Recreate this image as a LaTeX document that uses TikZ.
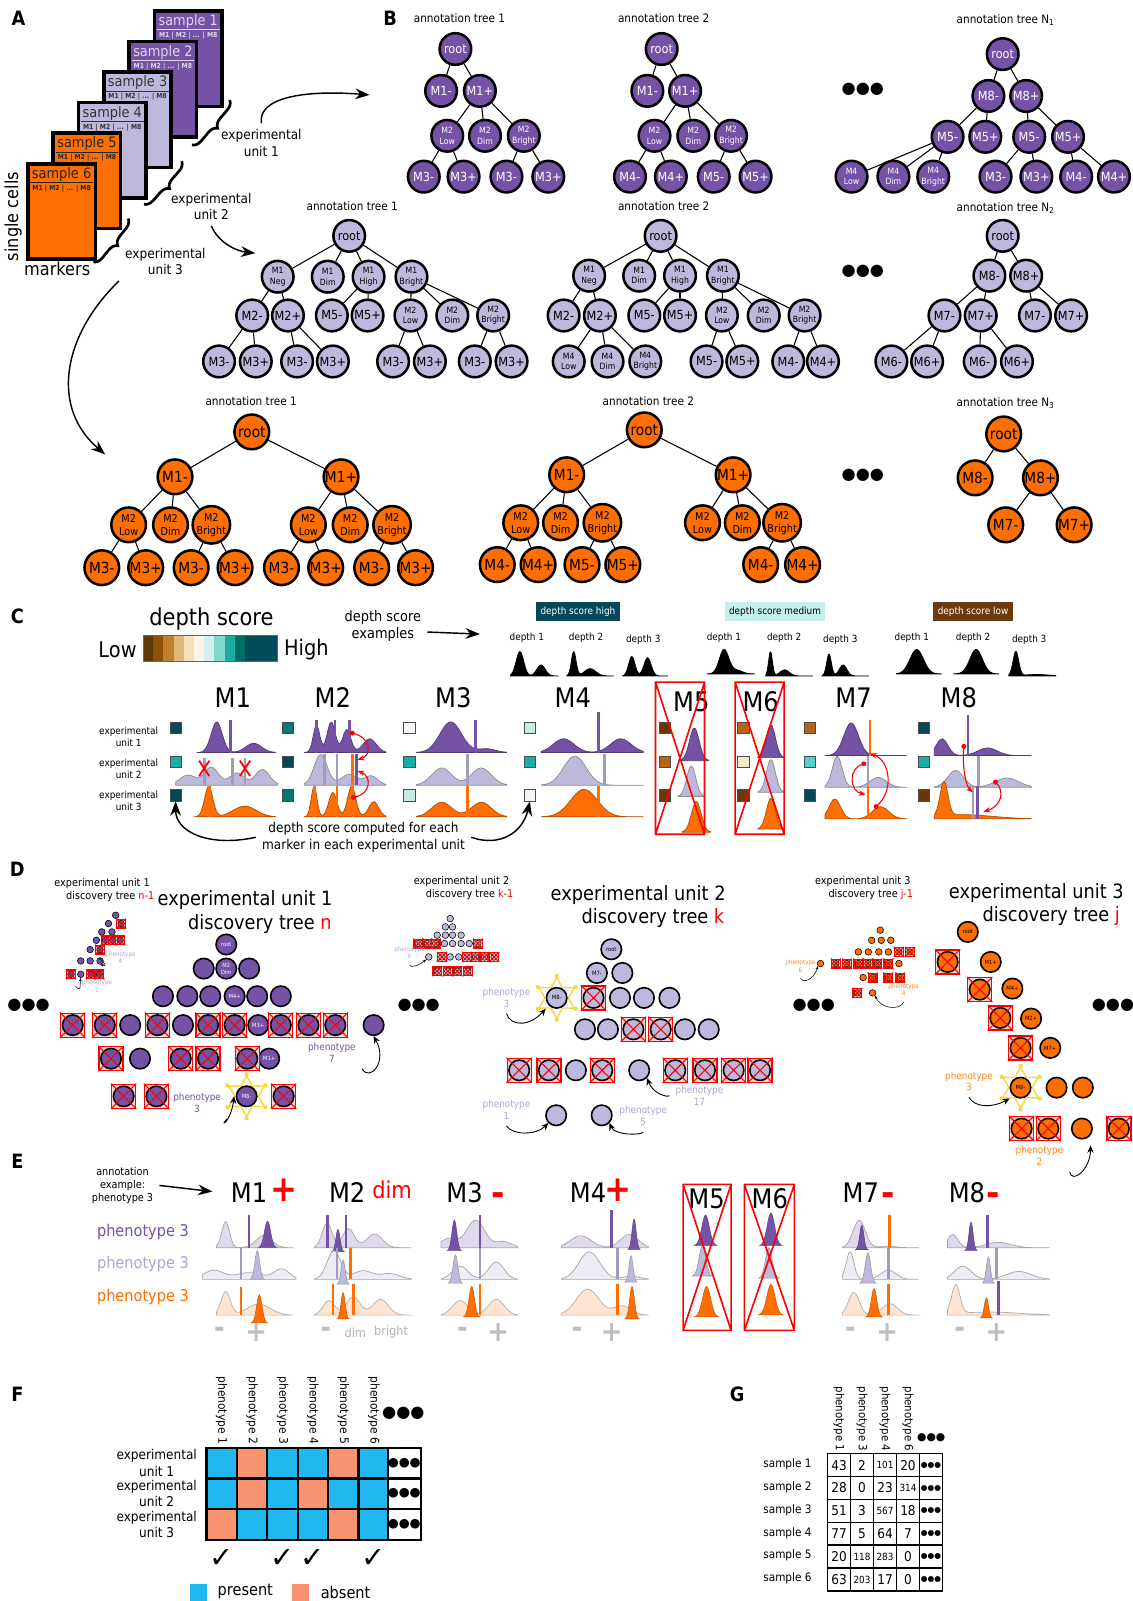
\documentclass[tikz,border=0pt]{standalone}
\usepackage{fontspec}
\setmainfont{DejaVu Sans}[FakeStretch=0.9]
\newfontfamily\symf{DejaVu Sans}
\usetikzlibrary{arrows.meta,calc,decorations.pathreplacing,shapes.geometric}
\pgfdeclarelayer{background}
\pgfsetlayers{background,main}

\definecolor{pdark}{RGB}{116,82,166}
\definecolor{plight}{RGB}{188,185,221}
\definecolor{orng}{RGB}{255,110,0}
\definecolor{plab}{RGB}{172,166,212}
\definecolor{pale}{RGB}{222,214,240}
\definecolor{olab}{RGB}{255,135,30}
\definecolor{present}{RGB}{33,184,240}
\definecolor{absent}{RGB}{250,148,112}
\definecolor{cb1}{RGB}{95,55,8}
\definecolor{cb2}{RGB}{140,81,10}
\definecolor{cb3}{RGB}{191,129,45}
\definecolor{cb4}{RGB}{223,183,120}
\definecolor{cb5}{RGB}{246,224,185}
\definecolor{cb6}{RGB}{250,245,235}
\definecolor{cb7}{RGB}{210,240,236}
\definecolor{cb8}{RGB}{128,215,205}
\definecolor{cb9}{RGB}{30,170,160}
\definecolor{cb10}{RGB}{1,110,100}
\definecolor{cb11}{RGB}{0,75,90}
\definecolor{dsLow}{RGB}{110,58,15}
\definecolor{dsMed}{RGB}{195,240,234}
\definecolor{sqW}{RGB}{245,245,245}
\definecolor{sqLT}{RGB}{199,234,229}
\definecolor{sqT}{RGB}{20,175,165}
\definecolor{sqMT}{RGB}{1,120,110}
\definecolor{sqDT}{RGB}{5,72,90}
\definecolor{sqAQ}{RGB}{80,210,200}
\definecolor{sqDB}{RGB}{107,55,10}
\definecolor{sqOB}{RGB}{185,100,20}
\definecolor{sqCR}{RGB}{248,232,200}
\definecolor{gold6}{RGB}{250,215,60}

\newcommand{\fsz}[1]{\fontsize{#1}{\dimexpr #1pt*12/10\relax}\selectfont}
% density curve: style, x0, baseline, width, height, shape in \x
\newcommand{\dens}[6]{\filldraw[#1] (#2,#3) -- plot[smooth, domain=0:1, samples=36] ({#2+#4*\x},{#3-#5*(#6)}) -- (#2+#4,#3) -- cycle;}
% narrow peak: style, centre, baseline, half width, height
\newcommand{\peak}[5]{\filldraw[#1] plot[smooth, domain=-1:1, samples=17] ({#2+#4*(\x)},{#3-#5*exp(-4.5*(\x)*(\x))}) -- cycle;}
% gate line: style, x, top, bottom
\newcommand{\gate}[4]{\draw[#1, line width=1.5pt] (#2,#3) -- (#2,#4);}
% crossed out node: name, position, style, square size
\newcommand{\xnode}[4]{\node[xsq, minimum size=#4] (#1-s) at (#2) {};
  \node[#3] (#1) at (#2) {};
  \draw[xline] (#1-s.north west) -- (#1-s.south east) (#1-s.north east) -- (#1-s.south west);}
% crossed out marker column
\newcommand{\xcol}[4]{\draw[red, line width=0.9pt] (#1,#2) rectangle (#3,#4) (#1,#2) -- (#3,#4) (#3,#2) -- (#1,#4);}

\begin{document}
\begin{tikzpicture}[x=0.02cm, y=-0.02cm,
  declare function={g(\t,\m,\w)=exp(-0.5*((\t-\m)/\w)*((\t-\m)/\w));},
  lbl/.style={font=\bfseries\fsz{11}},
  ttl/.style={font=\fsz{6.5}},
  tnode/.style={circle, draw=black, line width=1.4pt, inner sep=0pt, align=center},
  nA/.style={tnode, fill=pdark, text=white, minimum size=0.62cm, font=\fsz{7}},
  nAs/.style={nA, font=\fsz{4.8}},
  nB/.style={tnode, fill=plight, minimum size=0.62cm, font=\fsz{7}},
  nBs/.style={nB, font=\fsz{4.8}},
  nC/.style={tnode, fill=orng, minimum size=0.68cm, font=\fsz{8.5}},
  nCs/.style={nC, font=\fsz{6}},
  edge/.style={line width=0.6pt},
  thinedge/.style={line width=0.25pt},
  bigarrow/.style={line width=0.8pt, -{Stealth[length=8pt,width=6pt]}},
  smallarrow/.style={line width=0.5pt, -{Stealth[length=4pt,width=3.5pt]}},
  rarr/.style={red, line width=0.6pt, -{Stealth[length=4pt,width=3pt]}},
  sheet/.style={rectangle, draw=black, line width=2pt, minimum width=1.32cm, minimum height=1.87cm, anchor=north west, inner sep=0pt},
  brc/.style={decorate, decoration={brace, amplitude=5pt}, line width=1.5pt},
  dots/.style={font=\symf\fsz{9}},
  hdr/.style={font=\fsz{15}},
  sq/.style={rectangle, draw=black!70, line width=0.4pt, minimum size=0.22cm, inner sep=0pt},
  dP/.style={fill=pdark, draw=pdark!70!black, line width=0.4pt},
  dL/.style={fill=plight, draw=black!45, line width=0.4pt},
  dO/.style={fill=orng, draw=orng!70!black, line width=0.4pt},
  dK/.style={fill=black, draw=black},
  eP/.style={fill=pdark!22, draw=black!35, line width=0.4pt},
  eL/.style={fill=plight!25, draw=black!35, line width=0.4pt},
  eO/.style={fill=orng!18, draw=black!30, line width=0.4pt},
  pkP/.style={fill=pdark, draw=pdark!80!black, line width=0.3pt},
  pkL/.style={fill=plight, draw=black!40, line width=0.3pt},
  pkO/.style={fill=orng, draw=orng!80!black, line width=0.3pt},
  gP/.style={draw=pdark}, gL/.style={draw=plight!85!black}, gO/.style={draw=orng},
  dA/.style={circle, draw=black, line width=0.9pt, fill=pdark, minimum size=0.4cm, inner sep=0pt, font=\fsz{3.2}, text=white, align=center},
  dB/.style={dA, fill=plight, text=black},
  dC/.style={dA, fill=orng, text=black},
  tA/.style={circle, draw=black, line width=0.3pt, fill=pdark, minimum size=0.13cm, inner sep=0pt},
  tB/.style={tA, fill=plight},
  tC/.style={tA, fill=orng},
  xsq/.style={rectangle, draw=red, fill=red!18, line width=0.7pt, inner sep=0pt},
  xline/.style={red, line width=0.6pt},
  sixstar/.style={star, star points=6, star point ratio=1.75, draw=gold6, line width=0.8pt, minimum size=0.8cm, inner sep=0pt},
  phen/.style={font=\fsz{5.5}, align=center},
  cellF/.style={rectangle, draw=black, line width=1.3pt, minimum width=0.596cm, minimum height=0.6cm, inner sep=0pt},
  cellG/.style={rectangle, draw=black, line width=0.9pt, minimum width=0.45cm, minimum height=0.449cm, inner sep=0pt, font=\fsz{7.5}},
  ]
\useasboundingbox (0,0) rectangle (1109,1568);
\fill[white] (0,0) rectangle (1109,1568);

% ---------------- panel A ----------------
\node[lbl] (pA) at (18,18) {A};
\foreach \k/\fc/\tc in {1/pdark/pale, 2/pdark/pale, 3/plight/black!80, 4/plight/black!80, 5/orng/black!85, 6/orng/black!85} {
  \pgfmathsetmacro\sx{149.6-24.8*(\k-1)}
  \pgfmathsetmacro\sy{9.1+29.9*(\k-1)}
  \node[sheet, fill=\fc] (s\k) at (\sx,\sy) {};
  \node[font=\fsz{8}, text=\tc] (s\k-t) at ($(s\k.north)+(0,12)$) {sample \k};
  \draw[\tc, line width=0.3pt] ($(s\k.north west)+(4,20)$) -- ($(s\k.north east)+(-4,20)$);
  \node[font=\bfseries\fsz{3.8}, text=\tc] (s\k-m) at ($(s\k.north)+(0,26)$) {M1 | M2 | ... | M8};
}
\draw[brc] (225,98) -- (188,142);
\draw[brc] (178,158) -- (141,200);
\draw[brc] (125.6,214) -- (91.4,256.5);
\node[font=\fsz{7.5}, align=center] (eu1) at (256,140) {experimental\\unit 1};
\node[font=\fsz{7.5}, align=center] (eu2) at (207,202) {experimental\\unit 2};
\node[font=\fsz{7.5}, align=center] (eu3) at (162,256) {experimental\\unit 3};
\node[font=\fsz{10}, rotate=90] (cells) at (13,212) {single cells};
\node[font=\fsz{10}] (mk) at (56,263) {markers};
\coordinate (toB1) at (362,93);
\coordinate (toB2) at (250,248);
\coordinate (toB3) at (103,445);
\draw[bigarrow] (eu1.north) .. controls (252,95) and (300,88) .. (toB1);
\draw[bigarrow] (eu2.south) .. controls (214,238) and (232,246) .. (toB2);
\draw[bigarrow] (eu3.south west) .. controls (60,330) and (50,400) .. (toB3);

% ---------------- panel B ----------------
\node[lbl] (pB) at (382,18) {B};
\node[ttl] (tt11) at (450,18) {annotation tree 1};
\node[ttl] (tt12) at (650,18) {annotation tree 2};
\node[ttl] (tt1N) at (985,20) {annotation tree N\textsubscript{1}};
\node[ttl] (tt21) at (345,202) {annotation tree 1};
\node[ttl] (tt22) at (650,202) {annotation tree 2};
\node[ttl] (tt2N) at (985,204) {annotation tree N\textsubscript{2}};
\node[ttl] (tt31) at (246,393) {annotation tree 1};
\node[ttl] (tt32) at (635,393) {annotation tree 2};
\node[ttl] (tt3N) at (985,395) {annotation tree N\textsubscript{3}};
\node[dots] (bd1) at (845,87) {●●●};
\node[dots] (bd2) at (845,266) {●●●};
\node[dots] (bd3) at (845,466) {●●●};

% unit 1, tree 1
\foreach \n/\x/\y/\t in {r/446/48/root, b/432/89/M1-, c/470/89/M1+, g/415/173/M3-, h/454/173/M3+, i/496/173/M3-, j/537/173/M3+}
  \node[nA] (a\n) at (\x,\y) {\t};
\foreach \n/\x/\y/\t in {d/438/133/M2\\Low, e/475/133/M2\\Dim, f/513/133/M2\\Bright}
  \node[nAs] (a\n) at (\x,\y) {\t};
\foreach \p/\q in {r/b, r/c, c/d, c/e, c/f, d/g, d/h, f/i, f/j}
  \draw[edge] (a\p) -- (a\q);
% unit 1, tree 2
\foreach \n/\x/\y/\t in {r/648/48/root, b/634/89/M1-, c/671/89/M1+, g/617/173/M4-, h/657/173/M4+, i/699/173/M5-, j/740/173/M5+}
  \node[nA] (b\n) at (\x,\y) {\t};
\foreach \n/\x/\y/\t in {d/641/133/M2\\Low, e/679/133/M2\\Dim, f/716/133/M2\\Bright}
  \node[nAs] (b\n) at (\x,\y) {\t};
\foreach \p/\q in {r/b, r/c, c/d, c/e, c/f, d/g, d/h, f/i, f/j}
  \draw[edge] (b\p) -- (b\q);
% unit 1, tree N1
\foreach \n/\x/\y/\t in {r/982/53/root, b/968/94/M8-, d/1005/94/M8+, e/928/134/M5-, f/965/134/M5+, g/1008/134/M5-, h/1046/134/M5+, l/975/173/M3-, m/1015/173/M3+, n/1054/173/M4-, o/1091/173/M4+}
  \node[nA] (c\n) at (\x,\y) {\t};
\foreach \n/\x/\y/\t in {i/834/173/M4\\Low, j/875/173/M4\\Dim, k/914/173/M4\\Bright}
  \node[nAs] (c\n) at (\x,\y) {\t};
\foreach \p/\q in {r/b, r/d, b/e, b/f, d/g, d/h, e/i, e/j, e/k, g/l, g/m, h/n, h/o}
  \draw[edge] (c\p) -- (c\q);

% unit 2, tree 1
\foreach \n/\x/\y/\t in {r/342/231/root, g/247/309/M2-, h/282/309/M2+, i/325/309/M5-, j/360/309/M5+, n/214.5/354/M3-, o/250.5/354/M3+, p/291/354/M3-, q/326/354/M3+, s/385/354/M3-, t/421/354/M3+, u/465/354/M3-, v/501/354/M3+}
  \node[nB] (d\n) at (\x,\y) {\t};
\foreach \n/\x/\y/\t in {b/272/271/M1\\Neg, c/321/271/M1\\Dim, e/361/271/M1\\High, f/403/271/M1\\Bright, k/402/309/M2\\Low, l/443/309/M2\\Dim, m/483/309/M2\\Bright}
  \node[nBs] (d\n) at (\x,\y) {\t};
\foreach \p/\q in {r/b, r/c, r/e, r/f, b/g, b/h, e/i, e/j, f/k, f/l, f/m, g/n, g/o, h/p, h/q, k/s, k/t, m/u, m/v}
  \draw[edge] (d\p) -- (d\q);
% unit 2, tree 2
\foreach \n/\x/\y/\t in {r/647/231/root, g/552/309/M2-, h/587.5/309/M2+, i/631/309/M5-, j/666/309/M5+, q/692/354/M5-, s/727/354/M5+, t/772/354/M4-, u/806/354/M4+}
  \node[nB] (e\n) at (\x,\y) {\t};
\foreach \n/\x/\y/\t in {b/577/270/M1\\Neg, c/626/270/M1\\Dim, d/666/270/M1\\High, f/708/270/M1\\Bright, k/707/309/M2\\Low, l/748/309/M2\\Dim, m/788/309/M2\\Bright, n/557/354/M4\\Low, o/595/354/M4\\Dim, p/632/354/M4\\Bright}
  \node[nBs] (e\n) at (\x,\y) {\t};
\foreach \p/\q in {r/b, r/c, r/d, r/f, b/g, b/h, d/i, d/j, f/k, f/l, f/m, h/n, h/o, h/p, k/q, k/s, m/t, m/u}
  \draw[edge] (e\p) -- (e\q);
% unit 2, tree N2
\foreach \n/\x/\y/\t in {r/982/231/root, b/969/270/M8-, c/1005/270/M8+, d/925/309/M7-, e/960.5/309/M7+, g/1013.6/309/M7-, h/1049/309/M7+, i/873/354/M6-, j/908/354/M6+, k/959.5/354/M6-, l/996/354/M6+}
  \node[nB] (f\n) at (\x,\y) {\t};
\foreach \p/\q in {r/b, r/c, b/d, b/e, c/g, c/h, d/i, d/j, e/k, e/l}
  \draw[edge] (f\p) -- (f\q);

% unit 3, tree 1
\foreach \n/\x/\y/\t in {r/246.6/423/root, b/171.4/467/M1-, c/334/467/M1+, k/99.7/556/M3-, l/142.7/556/M3+, m/187.2/556/M3-, n/230.2/556/M3+, o/275.7/556/M3-, p/319/556/M3+, q/364/556/M3-, s/407/556/M3+}
  \node[nC] (g\n) at (\x,\y) {\t};
\foreach \n/\x/\y/\t in {d/126/514/M2\\Low, e/167/514/M2\\Dim, f/207/514/M2\\Bright, h/302/514/M2\\Low, i/343/514/M2\\Dim, j/384/514/M2\\Bright}
  \node[nCs] (g\n) at (\x,\y) {\t};
\foreach \p/\q in {r/b, r/c, b/d, b/e, b/f, c/h, c/i, c/j, d/k, d/l, f/m, f/n, h/o, h/p, j/q, j/s}
  \draw[edge] (g\p) -- (g\q);
% unit 3, tree 2
\foreach \n/\x/\y/\t in {r/631/421/root, b/555/465/M1-, c/718/465/M1+, k/487/553/M4-, l/527/553/M4+, m/570/553/M5-, n/610/553/M5+, o/745/553/M4-, p/786/553/M4+}
  \node[nC] (h\n) at (\x,\y) {\t};
\foreach \n/\x/\y/\t in {d/510/512/M2\\Low, e/549/512/M2\\Dim, f/590/512/M2\\Bright, g/688/512/M2\\Low, i/727/512/M2\\Dim, j/766/512/M2\\Bright}
  \node[nCs] (h\n) at (\x,\y) {\t};
\foreach \p/\q in {r/b, r/c, b/d, b/e, b/f, c/g, c/i, c/j, d/k, d/l, f/m, f/n, j/o, j/p}
  \draw[edge] (h\p) -- (h\q);
% unit 3, tree N3
\foreach \n/\x/\y/\t in {r/983/425/root, b/955/468/M8-, c/1019/468/M8+, d/985/514/M7-, e/1052/514/M7+}
  \node[nC] (i\n) at (\x,\y) {\t};
\foreach \p/\q in {r/b, r/c, c/d, c/e}
  \draw[edge] (i\p) -- (i\q);

% ---------------- panel C ----------------
\node[lbl] (pC) at (17,604) {C};
\node[font=\fsz{13}] (dsc) at (207,606) {depth score};
\foreach \c [count=\i] in {cb1,cb2,cb3,cb4,cb5,cb6,cb7,cb8,cb9,cb10}
  \fill[\c] (130+10*\i,622) rectangle ++(10,26);
\fill[cb11] (240,622) rectangle (272,648);
\draw[black!60, line width=0.3pt] (140,622) rectangle (272,648);
\node[font=\fsz{12}, anchor=east] (low) at (140,636) {Low};
\node[font=\fsz{12}, anchor=west] (high) at (272,636) {High};
\node[font=\fsz{8}, align=center] (ex) at (375,613) {depth score\\examples};
\coordinate (exEnd) at (470,621);
\draw[bigarrow] (ex.east) ++(0,6) -- (exEnd);
\node[fill=sqDT, text=white, font=\fsz{5.5}, inner sep=2.5pt] (bxH) at (566,599) {depth score high};
\node[fill=dsMed, font=\fsz{5.5}, inner sep=2.5pt] (bxM) at (759,599) {depth score medium};
\node[fill=dsLow, text=white, font=\fsz{5.5}, inner sep=2.5pt] (bxL) at (953,599) {depth score low};
\foreach \x/\y/\t [count=\i] in {516/625/depth 1, 574/625/depth 2, 630/627/depth 3, 709/625/depth 1, 768/625/depth 2, 823/627/depth 3, 893/625/depth 1, 953/625/depth 2, 1008/627/depth 3}
  \node[font=\fsz{5.5}] (dl\i) at (\x,\y) {\t};
% example densities
\dens{dK}{500}{662}{46}{24}{g(\x,0.2,0.08)+0.45*g(\x,0.65,0.09)}
\dens{dK}{555}{662}{46}{24}{g(\x,0.15,0.05)+0.3*g(\x,0.5,0.12)}
\dens{dK}{610}{662}{44}{24}{0.8*g(\x,0.2,0.07)+0.75*g(\x,0.55,0.08)}
\dens{dK}{693}{660}{46}{24}{g(\x,0.35,0.1)+0.15*g(\x,0.62,0.12)}
\dens{dK}{750}{662}{46}{24}{g(\x,0.1,0.04)+0.25*g(\x,0.4,0.1)}
\dens{dK}{805}{662}{46}{24}{0.9*g(\x,0.15,0.05)+0.45*g(\x,0.45,0.08)}
\dens{dK}{878}{660}{44}{24}{g(\x,0.45,0.15)}
\dens{dK}{934}{660}{44}{24}{g(\x,0.5,0.14)}
\dens{dK}{988}{662}{46}{24}{g(\x,0.15,0.06)+0.06*g(\x,0.6,0.25)}

% marker headers
\foreach \x/\y/\t in {228/683/M1, 326/683/M2, 444/683/M3, 561/683/M4, 677/687/M5, 745/687/M6, 836/683/M7, 939/683/M8}
  \node[hdr] (c\t) at (\x,\y) {\t};
\node[font=\fsz{5.5}, align=center] (cu1) at (126,722) {experimental\\unit 1};
\node[font=\fsz{5.5}, align=center] (cu2) at (126,753) {experimental\\unit 2};
\node[font=\fsz{5.5}, align=center] (cu3) at (126,784) {experimental\\unit 3};
\foreach \x/\a/\b/\c [count=\i] in {172/sqDT/sqT/sqDT, 282/sqMT/sqDT/sqMT, 401/sqW/sqT/sqLT, 519/sqLT/sqT/sqW, 651/sqDB/sqOB/sqDB, 728/sqOB/sqCR/sqDB, 793/sqOB/sqAQ/sqDT, 905/sqDT/sqT/sqDB} {
  \node[sq, fill=\a] (sq\i-1) at (\x,713) {};
  \node[sq, fill=\b] (sq\i-2) at (\x,746) {};
  \node[sq, fill=\c] (sq\i-3) at (\x,779) {};
}
% M1
\dens{dP}{193}{737}{77}{30}{g(\x,0.25,0.07)+0.3*g(\x,0.72,0.1)}
\gate{gP}{226}{705}{737}
\dens{dL}{172}{769}{100}{22}{0.45*g(\x,0.12,0.08)+0.8*g(\x,0.35,0.07)+0.55*g(\x,0.6,0.07)+0.7*g(\x,0.85,0.07)}
\gate{gL}{200}{742}{769} \gate{gL}{228}{742}{769} \gate{gL}{240}{742}{769}
\draw[red, line width=1pt] (195,745) -- (205,760) (205,745) -- (195,760) (235,745) -- (245,760) (245,745) -- (235,760);
\dens{dO}{190}{800}{80}{30}{g(\x,0.18,0.05)+0.35*g(\x,0.62,0.14)}
\gate{gO}{205}{770}{800}
% M2
\dens{dP}{298}{737}{80}{30}{0.9*g(\x,0.15,0.04)+g(\x,0.33,0.05)+0.75*g(\x,0.52,0.05)+0.45*g(\x,0.8,0.08)}
\gate{gP}{310}{705}{737} \gate{gP}{328}{705}{737} \gate{gP}{342}{705}{737}
\dens{dL}{298}{769}{80}{30}{g(\x,0.2,0.08)+0.35*g(\x,0.55,0.1)+0.3*g(\x,0.82,0.08)}
\gate{gL}{318}{738}{769} \gate{gL}{330}{738}{769} \gate{gO}{345}{738}{769} \gate{gP}{349}{738}{769}
\dens{dO}{298}{800}{80}{30}{g(\x,0.12,0.035)+0.8*g(\x,0.35,0.05)+g(\x,0.58,0.05)+0.5*g(\x,0.85,0.06)}
\gate{gO}{308}{770}{800} \gate{gO}{330}{770}{800} \gate{gO}{345}{770}{800}
% M3
\dens{dP}{408}{737}{88}{30}{g(\x,0.38,0.12)+0.12*g(\x,0.78,0.1)}
\gate{gP}{466}{705}{737}
\dens{dL}{408}{769}{88}{26}{0.65*g(\x,0.28,0.11)+0.65*g(\x,0.72,0.11)}
\gate{gL}{458}{738}{769}
\dens{dO}{408}{800}{88}{26}{0.55*g(\x,0.28,0.11)+0.55*g(\x,0.72,0.11)}
\gate{gO}{458}{770}{800}
% M4
\dens{dP}{530}{737}{100}{30}{0.45*g(\x,0.22,0.1)+0.45*g(\x,0.78,0.1)}
\gate{gP}{586}{697}{737}
\dens{dL}{530}{769}{100}{30}{0.95*g(\x,0.33,0.11)}
\gate{gL}{592}{738}{769}
\dens{dO}{530}{800}{100}{30}{0.9*g(\x,0.42,0.13)}
\gate{gO}{586}{770}{800}
% M5, M6
\dens{dP}{666}{745}{28}{32}{g(\x,0.5,0.17)}
\dens{dL}{664}{780}{26}{30}{g(\x,0.5,0.17)}
\dens{dO}{668}{815}{28}{30}{g(\x,0.5,0.17)}
\dens{dP}{742}{742}{26}{32}{g(\x,0.5,0.17)}
\dens{dL}{742}{776}{26}{32}{g(\x,0.5,0.17)}
\dens{dO}{742}{812}{26}{30}{g(\x,0.5,0.17)}
\xcol{642}{668}{690}{817}
\xcol{720}{668}{768}{817}
% M7
\dens{dP}{808}{740}{80}{32}{g(\x,0.32,0.09)}
\gate{gO}{852}{705}{740}
\dens{dL}{808}{771}{80}{32}{0.95*g(\x,0.15,0.06)+0.3*g(\x,0.65,0.1)}
\gate{gL}{850}{740}{771}
\dens{dO}{808}{802}{80}{30}{0.65*g(\x,0.12,0.07)+0.4*g(\x,0.68,0.1)}
\gate{gO}{850}{770}{802}
% M8
\dens{dP}{915}{740}{95}{30}{0.55*g(\x,0.08,0.06)+0.25*g(\x,0.55,0.1)}
\gate{gP}{948}{700}{740}
\dens{dL}{915}{771}{95}{30}{0.55*g(\x,0.22,0.08)+0.3*g(\x,0.75,0.12)}
\gate{gL}{958}{740}{771}
\dens{dO}{915}{802}{95}{34}{g(\x,0.1,0.04)+0.12*g(\x,0.3,0.3)}
\gate{gL}{953}{770}{802} \gate{gP}{957}{770}{802}
% red arrows
\foreach \n/\x/\y in {m2a/345/718, m2b/350/744, m2c/346/781, m2d/350/755, m7a/858/790, m7b/852/738, m7c/846/748, m7d/848/778, m8a/944/731, m8b/953/776, m8c/975/766, m8d/963/795}
  \coordinate (\n) at (\x,\y);
\foreach \n in {m2a, m2c, m7a, m7c, m8a, m8c}
  \fill[red] (\n) circle (1.4pt);
\draw[rarr] (m2a) .. controls (364,722) and (364,740) .. (m2b);
\draw[rarr] (m2c) .. controls (364,778) and (364,760) .. (m2d);
\draw[rarr] (m7a) .. controls (876,775) and (872,745) .. (m7b);
\draw[rarr] (m7c) .. controls (830,752) and (832,775) .. (m7d);
\draw[rarr] (m8a) .. controls (942,750) and (946,770) .. (m8b);
\draw[rarr] (m8c) .. controls (985,775) and (980,790) .. (m8d);
\node[font=\fsz{7.5}, align=center] (cmp) at (356,820) {depth score computed for each\\marker in each experimental unit};
\draw[bigarrow] (cmp.west) .. controls (205,830) and (172,815) .. (sq1-3.south);
\draw[bigarrow] (cmp.east) .. controls (490,830) and (512,815) .. (sq4-3.south);

% ---------------- panel D ----------------
\node[lbl] (pD) at (17,851) {D};
\node[font=\fsz{6}, align=center] (st1) at (100,872) {experimental unit 1\\\hspace*{1.5em}discovery tree \textcolor{red}{n-1}};
\node[font=\fsz{11}, align=center] (bt1) at (240,893) {experimental unit 1\\\hspace*{1.5em}discovery tree \textcolor{red}{n}};
\node[font=\fsz{6}, align=center] (st2) at (452,870) {experimental unit 2\\\hspace*{1.5em}discovery tree \textcolor{red}{k-1}};
\node[font=\fsz{11}, align=center] (bt2) at (625,888) {experimental unit 2\\\hspace*{1.5em}discovery tree \textcolor{red}{k}};
\node[font=\fsz{6}, align=center] (st3) at (845,870) {experimental unit 3\\\hspace*{1.5em}discovery tree \textcolor{red}{j-1}};
\node[font=\fsz{11}, align=center] (bt3) at (1015,886) {experimental unit 3\\\hspace*{1.5em}discovery tree \textcolor{red}{j}};
\foreach \x [count=\i] in {28,410,797,1090}
  \node[dots] (dd\i) at (\x,985) {●●●};

% discovery tree n
\foreach \n/\x/\y in {a/199.5/948.6, c/244/948.6, d/159.6/975.7, e/183.5/975.7, f/205.9/975.7, h/251.9/975.7, i/275/975.7, l/127.5/1004, n/179.2/1004, v/365.9/1004, x/137.1/1036.8}
  \node[dA] (u\n) at (\x,\y) {};
\foreach \n/\x/\y/\t in {r/221.6/925/root, b/221.6/948.6/M2\\Dim, g/229.8/975.7/M4+, q/252.9/1004/M3+, ab/263.6/1036.8/M1+}
  \node[dA] (u\n) at (\x,\y) {\t};
\node[sixstar] (uae-st) at (241.5,1073.7) {};
\foreach \k in {1,...,6} \fill[gold6] (uae-st.outer point \k) circle (1.2pt);
\node[dA] (uae) at (241.5,1073.7) {M8-};
\foreach \n/\x/\y in {j/71.2/1004, k/102.6/1004, m/154.2/1004, o/203.8/1004, p/229.8/1004, s/275/1004, t/302.1/1004, u/328.4/1004, w/108.7/1036.8, y/177/1036.8, z/203.8/1036.8, aa/242.2/1036.8, ac/121.1/1073.7, ad/153.2/1073.7, af/277.8/1073.7}
  {\xnode{u\n}{\x,\y}{dA}{0.47cm}}
\begin{pgfonlayer}{background}
\foreach \p/\q in {r/a, r/b, r/c, a/d, a/e, b/f, b/g, c/h, c/i, d/j, d/k, e/l, e/m, f/n, f/o, g/p, g/q, h/s, h/t, i/u, i/v, l/w, l/x, n/y, n/z, q/aa, q/ab, x/ac, x/ad, ab/ae, ab/af}
  \draw[edge] (u\p) -- (u\q);
\end{pgfonlayer}
\node[phen, text=pdark] (ph13) at (193,1080) {phenotype\\3};
\draw[smallarrow] (ph13.south east) .. controls (214,1104) and (226,1100) .. (uae-st.west);
\node[phen, text=pdark] (ph17) at (325,1031) {phenotype\\7};
\draw[smallarrow] (ph17.south east) .. controls (362,1060) and (380,1040) .. (uv.south);

% discovery tree n-1
\foreach \n/\x/\y in {1/113.3/896.4, 2/106.2/904.5, 4/99.7/912.7, 5/109.7/912.7, 6/94.4/920.9, 10/88.3/930, 12/79.1/941.1, 13/88.3/941.1, 14/98/941.1, 16/79.1/954.2}
  \node[tA] (v\n) at (\x,\y) {};
\foreach \n/\x/\y in {3/118.6/904.5, 7/103.3/920.9, 8/110.4/920.9, 9/117.6/920.9, 11/98/930, 15/69.5/954.2, 17/89.1/954.2, 18/97.3/954.2}
  {\xnode{v\n}{\x,\y}{tA}{0.17cm}}
\begin{pgfonlayer}{background}
\foreach \p/\q in {1/2, 1/3, 2/4, 2/5, 4/6, 4/7, 5/8, 5/9, 6/10, 6/11, 10/12, 10/13, 10/14, 12/15, 12/16, 13/17, 14/18}
  \draw[thinedge] (v\p) -- (v\q);
\end{pgfonlayer}
\node[font=\fsz{3.5}, text=plab, align=center] (vp4) at (118,938) {phenotype\\4};
\node[font=\fsz{3.5}, text=plab, align=center] (vp1) at (95,966) {phenotype\\1};
\draw[line width=0.3pt, -{Stealth[length=2pt]}] (vp4.west) .. controls (106,947) and (103,946) .. (v14.south);
\draw[line width=0.3pt, -{Stealth[length=2pt]}] (vp1.west) .. controls (80,972) and (78,966) .. (v16.south);

% discovery tree k
\foreach \n/\x/\y in {b/609.5/952.9, e/607.2/977.3, f/630.7/977.3, g/655.6/977.3, h/572.9/1008.1, i/595.4/1008.1, l/670.7/1008.1, m/694.1/1008.1, p/564/1048.2, s/626/1048.2, x/544.7/1092.3, y/589.3/1092.3}
  \node[dB] (w\n) at (\x,\y) {};
\foreach \n/\x/\y/\t in {r/598.7/929.7/root, a/584.6/952.9/M7-}
  \node[dB] (w\n) at (\x,\y) {\t};
\node[sixstar] (wc-st) at (545.2,977.3) {};
\foreach \k in {1,...,6} \fill[gold6] (wc-st.outer point \k) circle (1.2pt);
\node[dB] (wc) at (545.2,977.3) {M8-};
\foreach \n/\x/\y in {d/581.3/977.3, j/620.3/1008.1, k/647.1/1008.1, n/508.5/1048.2, o/537.6/1048.2, q/589.8/1048.2, t/661.3/1048.2, u/690.4/1048.2, v/718.5/1048.2, w/744.4/1048.2}
  {\xnode{w\n}{\x,\y}{dB}{0.47cm}}
\begin{pgfonlayer}{background}
\foreach \p/\q in {r/a, r/b, a/c, a/d, b/e, b/f, b/g, e/h, e/i, f/j, f/k, g/l, g/m, h/n, h/o, h/p, i/q, i/s, l/t, l/u, m/v, m/w, p/x, p/y}
  \draw[edge] (w\p) -- (w\q);
\end{pgfonlayer}
\node[phen, text=plab] (ph23) at (496,977) {phenotype\\3};
\draw[smallarrow] (ph23.south) .. controls (500,1005) and (518,1006) .. (wc-st.south west);
\node[phen, text=plab] (ph21) at (496,1087) {phenotype\\1};
\draw[smallarrow] (ph21.south) .. controls (502,1112) and (525,1112) .. (wx.south west);
\node[phen, text=plab] (ph25) at (630,1093) {phenotype\\5};
\draw[smallarrow] (ph25.south) .. controls (628,1112) and (602,1112) .. (wy.south east);
\node[phen, text=plab] (ph217) at (685,1073) {phenotype\\17};
\draw[smallarrow] (ph217.west) .. controls (655,1075) and (640,1072) .. (ws.south east);

% discovery tree k-1
\foreach \n/\x/\y in {1/440.9/899.6, 2/436.2/907.8, 3/443.2/907.8, 4/428.2/915.9, 5/436.2/915.9, 6/443.2/915.9, 7/451.6/915.9, 11/435.3/924.1, 12/443.2/924.1, 13/451.6/924.1, 14/459.6/924.1, 16/419.9/937.2, 18/440.9/937.2, 19/449.3/937.2}
  \node[tB] (k\n) at (\x,\y) {};
\foreach \n/\x/\y in {8/409.6/924.1, 9/418.5/924.1, 10/426.8/924.1, 15/468/924.1, 17/432.9/937.2, 20/457.3/937.2, 21/465.7/937.2, 22/474.5/937.2, 23/483.9/937.2, 24/428.2/951.2, 25/438.6/951.2, 26/447.9/951.2, 27/458.2/951.2}
  {\xnode{k\n}{\x,\y}{tB}{0.17cm}}
\begin{pgfonlayer}{background}
\foreach \p/\q in {1/2, 1/3, 2/4, 2/5, 3/6, 3/7, 4/8, 4/9, 4/10, 5/11, 6/12, 7/13, 7/14, 7/15, 11/16, 11/17, 12/18, 12/19, 13/20, 13/21, 14/22, 14/23, 18/24, 18/25, 19/26, 19/27}
  \draw[thinedge] (k\p) -- (k\q);
\end{pgfonlayer}
\node[font=\fsz{3.5}, text=plab, align=center] (kp6) at (401,933) {phenotype\\6};
\draw[line width=0.3pt, -{Stealth[length=2pt]}] (kp6.south) .. controls (402,948) and (410,946) .. (k16.south west);

% discovery tree j
\foreach \n/\x/\y in {j/1034.8/1065.2, k/1060.5/1065.2, n/1059.6/1105.3}
  \node[dC] (z\n) at (\x,\y) {};
\foreach \n/\x/\y/\t in {r/947.8/912.7/root, b/970.3/942.1/M1+, d/991.5/968.2/M4+, f/1009.8/997.6/M2+, h/1028.6/1026.3/M7+}
  \node[dC] (z\n) at (\x,\y) {\t};
\node[sixstar] (zi-st) at (999.5,1065.2) {};
\foreach \k in {1,...,6} \fill[gold6] (zi-st.outer point \k) circle (1.2pt);
\node[dC] (zi) at (999.5,1065.2) {M8-};
\foreach \n/\x/\y in {a/928.1/942.1, c/959.5/969.2, e/979.7/996.9, g/999.5/1026.3, l/1000.5/1105.3, m/1026.7/1105.3, o/1095.8/1105.3}
  {\xnode{z\n}{\x,\y}{dC}{0.47cm}}
\begin{pgfonlayer}{background}
\foreach \p/\q in {r/a, r/b, b/c, b/d, d/e, d/f, f/g, f/h, h/i, h/j, h/k, j/l, j/m, k/n, k/o}
  \draw[edge] (z\p) -- (z\q);
\end{pgfonlayer}
\node[phen, text=olab] (ph33) at (949,1059) {phenotype\\3};
\draw[smallarrow] (ph33.south) .. controls (955,1085) and (972,1085) .. (zi-st.south west);
\node[phen, text=olab] (ph32) at (1018,1132) {phenotype\\2};
\coordinate (ph32end) at (1068,1122);
\draw[smallarrow] (ph32.south east) .. controls (1050,1160) and (1068,1145) .. (ph32end);

% discovery tree j-1
\foreach \n/\x/\y in {1/862.1/911, 2/853.7/920.9, 3/863.1/920.9, 4/872.4/920.9, 5/840.6/932.3, 6/850.4/932.3, 7/860.7/932.3, 8/870.1/932.3, 11/803.6/943.7, 18/880.4/943.7, 19/845.3/957.4, 24/854.6/972.4}
  \node[tC] (j\n) at (\x,\y) {};
\foreach \n/\x/\y in {9/880.4/932.3, 10/891.2/932.3, 12/818.6/943.7, 13/829.4/943.7, 14/840.6/943.7, 15/850/943.7, 16/859.3/943.7, 17/870.1/943.7, 20/854.6/957.4, 21/870.1/957.4, 22/881.8/957.4, 23/839.6/972.4}
  {\xnode{j\n}{\x,\y}{tC}{0.17cm}}
\begin{pgfonlayer}{background}
\foreach \p/\q in {1/2, 1/3, 1/4, 2/5, 2/6, 3/7, 4/8, 4/9, 4/10, 5/11, 5/12, 5/13, 6/14, 6/15, 7/16, 8/17, 8/18, 15/19, 15/20, 17/21, 17/22, 19/23, 19/24}
  \draw[thinedge] (j\p) -- (j\q);
\end{pgfonlayer}
\node[font=\fsz{3.5}, text=olab, align=center] (jp6) at (784,946) {phenotype\\6};
\draw[line width=0.3pt, -{Stealth[length=2pt]}] (jp6.south) .. controls (785,962) and (796,962) .. (j11.south west);
\node[font=\fsz{3.5}, text=olab, align=center] (jp4) at (885,969) {phenotype\\4};
\draw[line width=0.3pt, -{Stealth[length=2pt]}] (jp4.south) .. controls (882,990) and (862,988) .. (j24.south east);

% ---------------- panel E ----------------
\node[lbl] (pE) at (17,1137) {E};
\node[font=\fsz{6}, align=center] (ann) at (120,1161) {annotation\\example:\\phenotype 3};
\coordinate (annEnd) at (208,1167);
\draw[bigarrow] (ann.east) -- (annEnd);
\foreach \x/\y/\t in {244/1168/M1, 340/1168/M2, 455/1168/M3, 576/1168/M4, 692/1174/M5, 754/1174/M6, 843/1168/M7, 947/1168/M8}
  \node[hdr] (e\t) at (\x,\y) {\t};
\foreach \x/\t [count=\i] in {278/+, 605/+}
  \node[font=\bfseries\fsz{20}, text=red] (eplus\i) at (\x,1166) {\t};
\foreach \x [count=\i] in {488,870,973}
  \node[font=\bfseries\fsz{20}, text=red] (eminus\i) at (\x,1174) {-};
\node[font=\fsz{13}, text=red] (edim) at (384,1165) {dim};
\node[font=\fsz{9}, text=pdark] (er1) at (140,1207) {phenotype 3};
\node[font=\fsz{9}, text=plab] (er2) at (140,1238) {phenotype 3};
\node[font=\fsz{9}, text=orng] (er3) at (140,1270) {phenotype 3};
% M1
\dens{eP}{212}{1222}{75}{27}{0.95*g(\x,0.12,0.05)+0.45*g(\x,0.62,0.1)}
\gate{gP}{244}{1190}{1222}
\peak{pkP}{262}{1222}{9}{26}
\dens{eL}{198}{1253}{92}{22}{0.4*g(\x,0.12,0.1)+0.3*g(\x,0.5,0.15)+0.45*g(\x,0.85,0.08)}
\gate{gL}{236}{1222}{1253}
\peak{pkL}{252}{1253}{7}{28}
\dens{eO}{212}{1288}{75}{27}{0.85*g(\x,0.12,0.06)+0.4*g(\x,0.55,0.15)}
\gate{gO}{236}{1260}{1288}
\peak{pkO}{254}{1296}{8}{28}
% M2
\dens{eP}{308}{1222}{95}{27}{0.9*g(\x,0.13,0.05)+0.7*g(\x,0.35,0.06)+0.5*g(\x,0.62,0.08)}
\gate{gP}{321}{1190}{1222} \gate{gP}{339}{1190}{1222}
\peak{pkP}{331}{1226}{6}{22}
\dens{eL}{308}{1253}{95}{28}{g(\x,0.2,0.07)+0.3*g(\x,0.5,0.1)+0.2*g(\x,0.78,0.1)}
\gate{gL}{330}{1222}{1253} \gate{gO}{343}{1222}{1253}
\peak{pkL}{336}{1258}{6}{24}
\dens{eO}{308}{1288}{95}{26}{0.55*g(\x,0.15,0.06)+0.7*g(\x,0.4,0.07)+0.6*g(\x,0.68,0.08)}
\gate{gO}{326}{1258}{1288} \gate{gO}{346}{1258}{1288}
\peak{pkO}{336}{1292}{6}{26}
% M3
\dens{eP}{432}{1222}{75}{30}{0.3*g(\x,0.1,0.1)+0.9*g(\x,0.45,0.12)+0.2*g(\x,0.82,0.1)}
\gate{gP}{470}{1190}{1222}
\peak{pkP}{445}{1225}{7}{30}
\dens{eL}{432}{1253}{75}{26}{0.5*g(\x,0.25,0.1)+0.65*g(\x,0.72,0.1)}
\gate{gL}{470}{1222}{1253}
\peak{pkL}{446}{1257}{7}{28}
\dens{eO}{432}{1288}{75}{26}{0.55*g(\x,0.25,0.1)+0.6*g(\x,0.72,0.1)}
\gate{gO}{470}{1258}{1288}
\peak{pkO}{462}{1290}{8}{30}
% M4
\dens{eP}{550}{1222}{85}{26}{0.45*g(\x,0.22,0.12)+0.5*g(\x,0.78,0.1)}
\gate{gP}{599}{1185}{1222}
\peak{pkP}{621}{1224}{6}{30}
\dens{eL}{550}{1253}{85}{30}{0.9*g(\x,0.32,0.12)+0.1*g(\x,0.8,0.1)}
\gate{gL}{605}{1222}{1253}
\peak{pkL}{618}{1256}{6}{26}
\dens{eO}{550}{1288}{85}{30}{0.85*g(\x,0.3,0.13)+0.3*g(\x,0.7,0.1)}
\gate{gO}{605}{1258}{1288}
\peak{pkO}{619}{1292}{7}{32}
% M5, M6
\peak{pkP}{691}{1220}{11}{30} \peak{pkL}{688}{1250}{10}{30} \peak{pkO}{692}{1290}{12}{30}
\peak{pkP}{755}{1220}{11}{32} \peak{pkL}{753}{1252}{10}{30} \peak{pkO}{755}{1288}{12}{30}
\xcol{669}{1160}{716}{1303}
\xcol{729}{1160}{778}{1303}
% M7
\dens{eP}{825}{1222}{75}{30}{0.9*g(\x,0.22,0.08)+0.05*g(\x,0.6,0.1)}
\gate{gO}{871}{1190}{1222}
\peak{pkP}{844}{1224}{6}{24}
\dens{eL}{825}{1253}{75}{30}{0.9*g(\x,0.1,0.05)+0.3*g(\x,0.6,0.1)}
\gate{gL}{870}{1222}{1253}
\peak{pkL}{850}{1257}{8}{30}
\dens{eO}{825}{1288}{75}{28}{0.8*g(\x,0.15,0.07)+0.4*g(\x,0.62,0.1)}
\gate{gO}{870}{1258}{1288}
\peak{pkO}{856}{1290}{8}{28}
% M8
\dens{eP}{928}{1222}{100}{26}{0.5*g(\x,0.05,0.05)+0.2*g(\x,0.5,0.12)}
\gate{gP}{967}{1190}{1222}
\peak{pkP}{951}{1225}{6}{28}
\dens{eL}{928}{1253}{100}{26}{0.5*g(\x,0.15,0.08)+0.3*g(\x,0.7,0.12)}
\gate{gL}{976}{1222}{1253}
\peak{pkL}{968}{1257}{6}{26}
\dens{eO}{928}{1288}{100}{30}{0.95*g(\x,0.08,0.04)+0.1*g(\x,0.4,0.3)}
\gate{gP}{978}{1255}{1288}
\peak{pkO}{966}{1291}{6}{20}
% gate names
\foreach \x/\t [count=\i] in {215/-, 251/+, 319/-, 453/-, 488/+, 565/-, 599/+, 833/-, 869/+, 940/-, 976/+}
  \node[font=\bfseries\fsz{16}, text=black!25] (eg\i) at (\x,1305) {\t};
\node[font=\fsz{7}, text=black!30] (egdim) at (348,1305) {dim};
\node[font=\fsz{7}, text=black!30] (egbr) at (383,1305) {bright};

% ---------------- panel F ----------------
\node[lbl] (pF) at (17,1366) {F};
\foreach \i in {1,...,6}
  \node[rotate=-90, anchor=west, font=\fsz{6.6}] (fh\i) at ({202.2+29.8*(\i-0.5)},1342) {phenotype \i};
\node[dots] (fhd) at (395,1384) {●●●};
\foreach \r/\a/\b/\c/\d/\e/\f in {1/present/absent/present/present/absent/present, 2/present/absent/present/absent/present/present, 3/absent/present/present/present/absent/present} {
  \foreach \col [count=\i] in {\a,\b,\c,\d,\e,\f}
    \node[cellF, fill=\col] (f\r-\i) at ({202.2+29.8*(\i-0.5)},{1417.8+30.07*(\r-0.5)}) {};
  \node[cellF, fill=white, font=\symf\fsz{7}] (f\r-7) at ({202.2+29.8*6.5},{1417.8+30.07*(\r-0.5)}) {●●●};
  \node[font=\fsz{7.5}, align=center, anchor=east] (fr\r) at (199,{1417.8+30.07*(\r-0.5)}) {experimental\\unit \r};
}
\foreach \i in {1,3,4,6}
  \node[font=\symf\fsz{16}] (ck\i) at ({202.2+29.8*(\i-0.5)},1526) {✓};
\node[rectangle, fill=present, minimum size=0.33cm, inner sep=0pt] (lgP) at (194,1560) {};
\node[font=\fsz{9}, anchor=west] (lgPt) at (207,1559) {present};
\node[rectangle, fill=absent, minimum size=0.33cm, inner sep=0pt] (lgA) at (294,1560) {};
\node[font=\fsz{9}, anchor=west] (lgAt) at (308,1560) {absent};

% ---------------- panel G ----------------
\node[lbl] (pG) at (722,1366) {G};
\foreach \p [count=\i] in {1,3,4,6}
  \node[rotate=-90, anchor=west, font=\fsz{6.3}] (gh\i) at ({810.5+22.5*(\i-0.5)},1352) {phenotype \p};
\node[font=\symf\fsz{6}] (ghd) at (912,1408) {●●●};
\foreach \r/\a/\b/\c/\d in {1/43/2/{\fsz{5.5}101}/20, 2/28/0/23/{\fsz{5.5}314}, 3/51/3/{\fsz{5.5}567}/18, 4/77/5/64/7, 5/20/{\fsz{5.5}118}/{\fsz{5.5}283}/0, 6/63/{\fsz{5.5}203}/17/0} {
  \foreach \v [count=\i] in {\a,\b,\c,\d}
    \node[cellG] (g\r-\i) at ({810.5+22.5*(\i-0.5)},{1423.7+22.43*(\r-0.5)}) {\v};
  \node[cellG, font=\symf\fsz{4.3}] (g\r-5) at ({810.5+22.5*4.5},{1423.7+22.43*(\r-0.5)}) {●●●};
  \node[font=\fsz{6.5}, anchor=east] (gr\r) at (801,{1422.7+22.43*(\r-0.5)}) {sample \r};
}
\end{tikzpicture}
\end{document}
